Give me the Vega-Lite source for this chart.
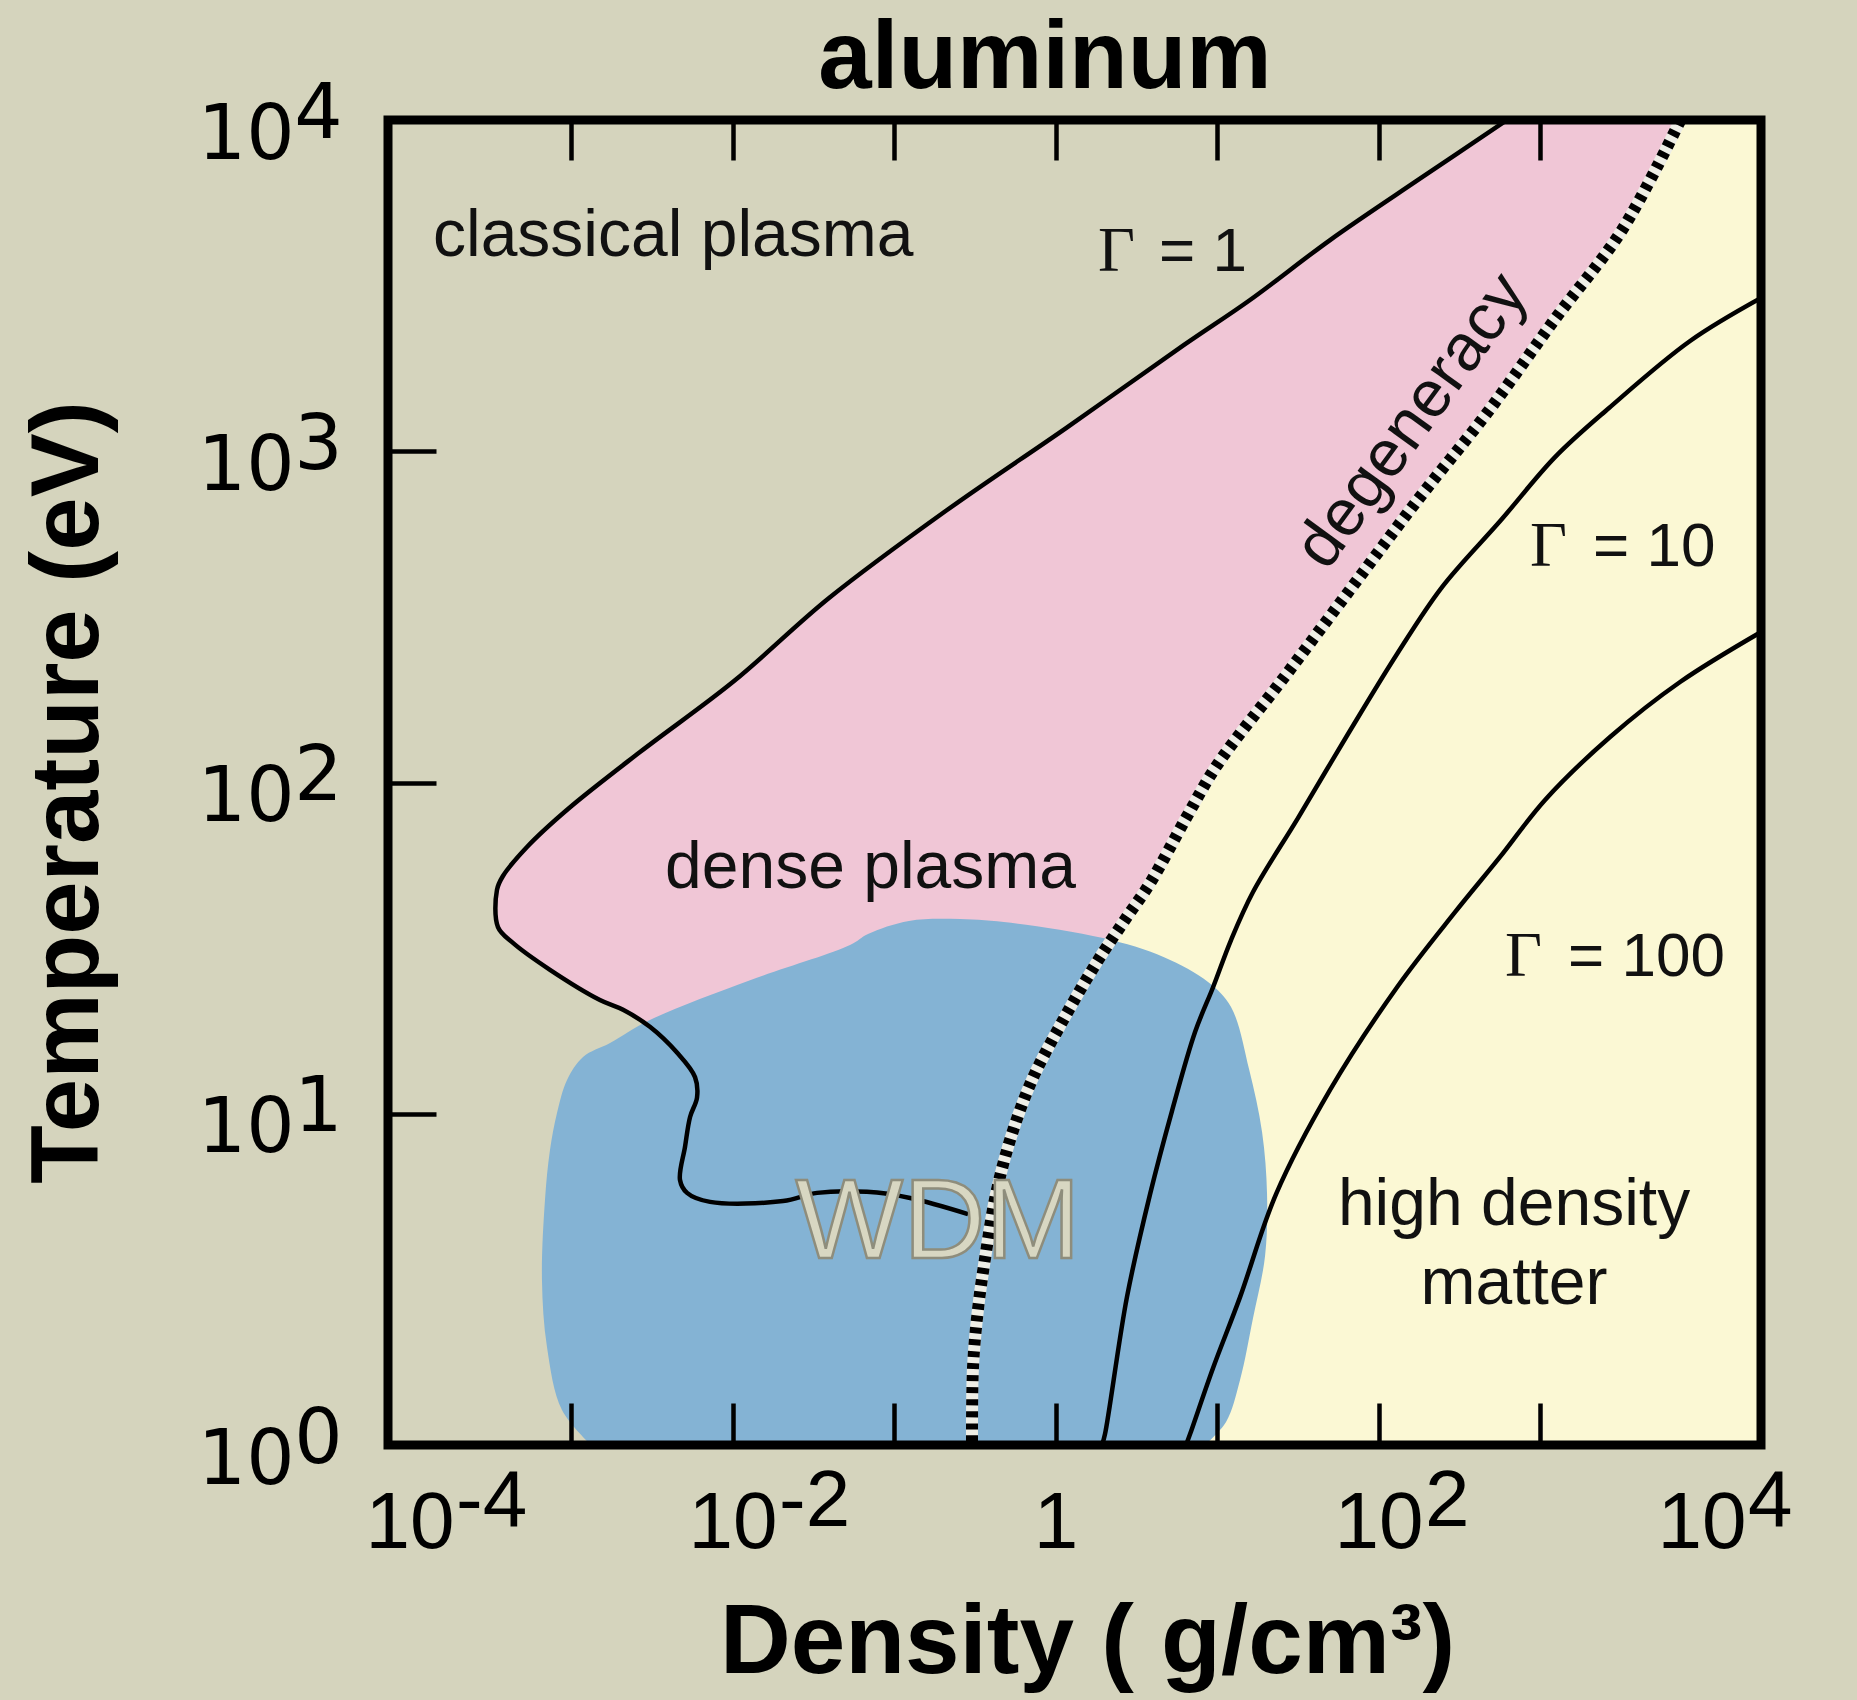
{
  "$schema": "https://vega.github.io/schema/vega-lite/v6.json",
  "width": 1373,
  "height": 1325,
  "autosize": "none",
  "padding": {"left": 388, "top": 120, "right": 96, "bottom": 255},
  "background": "#d5d4bd",
  "config": {"view": {"stroke": null}, "axis": {"grid": false, "domain": false}},
  "datasets": {
    "pts": [
      {"s":"yel","i":1,"x":7400,"y":10000},{"s":"yel","i":2,"x":3219,"y":4656},{"s":"yel","i":3,"x":1238,"y":2508},{"s":"yel","i":4,"x":469.8,"y":1305},{"s":"yel","i":5,"x":180.7,"y":727.8},{"s":"yel","i":6,"x":68.5,"y":389},{"s":"yel","i":7,"x":26.4,"y":209.6},{"s":"yel","i":8,"x":10.0,"y":112.9},{"s":"yel","i":9,"x":6.43,"y":78.1},{"s":"yel","i":10,"x":3.85,"y":49.7},{"s":"yel","i":11,"x":2.69,"y":38.5},{"s":"yel","i":12,"x":1.756,"y":28.1},{"s":"yel","i":13,"x":1.097,"y":18.9},{"s":"yel","i":14,"x":0.7153,"y":12.65},{"s":"yel","i":15,"x":0.53,"y":8.51},{"s":"yel","i":16,"x":0.428,"y":5.72},{"s":"yel","i":17,"x":0.3713,"y":3.825},{"s":"yel","i":18,"x":0.3312,"y":2.574},{"s":"yel","i":19,"x":0.3084,"y":1.72},{"s":"yel","i":20,"x":0.304,"y":1},{"s":"yel","i":21,"x":23340,"y":1},{"s":"yel","i":22,"x":23340,"y":10000},

      {"s":"deg","i":1,"x":7400,"y":10000},{"s":"deg","i":2,"x":3219,"y":4656},{"s":"deg","i":3,"x":1238,"y":2508},{"s":"deg","i":4,"x":469.8,"y":1305},{"s":"deg","i":5,"x":180.7,"y":727.8},{"s":"deg","i":6,"x":68.5,"y":389},{"s":"deg","i":7,"x":26.4,"y":209.6},{"s":"deg","i":8,"x":10.0,"y":112.9},{"s":"deg","i":9,"x":6.43,"y":78.1},{"s":"deg","i":10,"x":3.85,"y":49.7},{"s":"deg","i":11,"x":2.69,"y":38.5},{"s":"deg","i":12,"x":1.756,"y":28.1},{"s":"deg","i":13,"x":1.097,"y":18.9},{"s":"deg","i":14,"x":0.7153,"y":12.65},{"s":"deg","i":15,"x":0.53,"y":8.51},{"s":"deg","i":16,"x":0.428,"y":5.72},{"s":"deg","i":17,"x":0.3713,"y":3.825},{"s":"deg","i":18,"x":0.3312,"y":2.574},{"s":"deg","i":19,"x":0.3084,"y":1.72},{"s":"deg","i":20,"x":0.304,"y":1},

      {"s":"pink","i":1,"x":625,"y":10000},{"s":"pink","i":2,"x":183.3,"y":6683},{"s":"pink","i":3,"x":50.1,"y":4341},{"s":"pink","i":4,"x":16.0,"y":2862},{"s":"pink","i":5,"x":6.248,"y":2094},{"s":"pink","i":6,"x":1.162,"y":1175},{"s":"pink","i":8,"x":0.2129,"y":664.8},{"s":"pink","i":9,"x":0.03959,"y":360.6},{"s":"pink","i":10,"x":0.01022,"y":202.5},{"s":"pink","i":11,"x":0.002674,"y":123.6},{"s":"pink","i":12,"x":0.000958,"y":83.2},{"s":"pink","i":13,"x":0.000534,"y":63.9},{"s":"pink","i":14,"x":0.000379,"y":52.2},{"s":"pink","i":15,"x":0.000348,"y":47.4},{"s":"pink","i":16,"x":0.000353,"y":36.6},{"s":"pink","i":17,"x":0.000437,"y":32.8},{"s":"pink","i":18,"x":0.000741,"y":27.2},{"s":"pink","i":19,"x":0.00151,"y":22.05},{"s":"pink","i":20,"x":0.0021,"y":20.6},{"s":"pink","i":21,"x":0.00308,"y":18.3},{"s":"pink","i":22,"x":1.097,"y":18.9},{"s":"pink","i":23,"x":1.756,"y":28.1},{"s":"pink","i":24,"x":2.69,"y":38.5},{"s":"pink","i":25,"x":3.85,"y":49.7},{"s":"pink","i":26,"x":6.43,"y":78.1},{"s":"pink","i":27,"x":10.0,"y":112.9},{"s":"pink","i":28,"x":26.4,"y":209.6},{"s":"pink","i":29,"x":68.5,"y":389},{"s":"pink","i":30,"x":180.7,"y":727.8},{"s":"pink","i":31,"x":469.8,"y":1305},{"s":"pink","i":32,"x":1238,"y":2508},{"s":"pink","i":33,"x":3219,"y":4656},{"s":"pink","i":34,"x":7400,"y":10000},

      {"s":"g1","i":1,"x":625,"y":10000},{"s":"g1","i":2,"x":183.3,"y":6683},{"s":"g1","i":3,"x":50.1,"y":4341},{"s":"g1","i":4,"x":16.0,"y":2862},{"s":"g1","i":5,"x":6.248,"y":2094},{"s":"g1","i":6,"x":1.162,"y":1175},{"s":"g1","i":8,"x":0.2129,"y":664.8},{"s":"g1","i":9,"x":0.03959,"y":360.6},{"s":"g1","i":10,"x":0.01022,"y":202.5},{"s":"g1","i":11,"x":0.002674,"y":123.6},{"s":"g1","i":12,"x":0.000958,"y":83.2},{"s":"g1","i":13,"x":0.000534,"y":63.9},{"s":"g1","i":14,"x":0.000379,"y":52.2},{"s":"g1","i":15,"x":0.000348,"y":47.4},{"s":"g1","i":16,"x":0.000353,"y":36.6},{"s":"g1","i":17,"x":0.000437,"y":32.8},{"s":"g1","i":18,"x":0.000741,"y":27.2},{"s":"g1","i":19,"x":0.00151,"y":22.05},{"s":"g1","i":20,"x":0.0021,"y":20.6},{"s":"g1","i":21,"x":0.00308,"y":18.3},{"s":"g1","i":22,"x":0.00453,"y":15.3},{"s":"g1","i":23,"x":0.00586,"y":12.9},{"s":"g1","i":24,"x":0.00603,"y":11.2},{"s":"g1","i":25,"x":0.00546,"y":9.78},{"s":"g1","i":26,"x":0.00508,"y":7.94},{"s":"g1","i":27,"x":0.00473,"y":6.31},{"s":"g1","i":28,"x":0.00523,"y":5.77},{"s":"g1","i":29,"x":0.00726,"y":5.42},{"s":"g1","i":30,"x":0.02055,"y":5.45},{"s":"g1","i":31,"x":0.03336,"y":5.77},{"s":"g1","i":32,"x":0.068,"y":5.81},{"s":"g1","i":33,"x":0.1257,"y":5.57},{"s":"g1","i":34,"x":0.2871,"y":4.98},

      {"s":"blue","i":1,"x":0.00133,"y":1},{"s":"blue","i":2,"x":0.000879,"y":1.275},{"s":"blue","i":3,"x":0.00071,"y":1.976},{"s":"blue","i":4,"x":0.000661,"y":3.148},{"s":"blue","i":5,"x":0.00069,"y":5.49},{"s":"blue","i":6,"x":0.000741,"y":7.77},{"s":"blue","i":7,"x":0.000819,"y":10.05},{"s":"blue","i":8,"x":0.000945,"y":12.65},{"s":"blue","i":9,"x":0.001187,"y":14.84},{"s":"blue","i":10,"x":0.001744,"y":16.35},{"s":"blue","i":11,"x":0.00308,"y":19.19},{"s":"blue","i":12,"x":0.01284,"y":25.3},{"s":"blue","i":13,"x":0.0534,"y":32.3},{"s":"blue","i":14,"x":0.069,"y":34.9},{"s":"blue","i":15,"x":0.1238,"y":38.2},{"s":"blue","i":16,"x":0.2563,"y":38.7},{"s":"blue","i":17,"x":0.53,"y":37.7},{"s":"blue","i":18,"x":1.968,"y":33.9},{"s":"blue","i":19,"x":4.7,"y":29.7},{"s":"blue","i":20,"x":8.8,"y":25.0},{"s":"blue","i":21,"x":12.21,"y":21.0},{"s":"blue","i":22,"x":15.78,"y":13.65},{"s":"blue","i":23,"x":19.0,"y":8.81},{"s":"blue","i":24,"x":20.4,"y":5.72},{"s":"blue","i":25,"x":19.83,"y":3.72},{"s":"blue","i":26,"x":16.71,"y":2.417},{"s":"blue","i":27,"x":13.88,"y":1.571},{"s":"blue","i":28,"x":11.37,"y":1.173},{"s":"blue","i":29,"x":8.43,"y":1},

      {"s":"g10","i":1,"x":23340,"y":2902},{"s":"g10","i":2,"x":8490,"y":2152},{"s":"g10","i":3,"x":2674,"y":1351},{"s":"g10","i":4,"x":1238,"y":960},{"s":"g10","i":5,"x":573.5,"y":620},{"s":"g10","i":6,"x":247.3,"y":389},{"s":"g10","i":7,"x":130.2,"y":244.3},{"s":"g10","i":8,"x":64.7,"y":140.1},{"s":"g10","i":9,"x":31.7,"y":78.1},{"s":"g10","i":10,"x":16.7,"y":46.7},{"s":"g10","i":11,"x":12.21,"y":33.45},{"s":"g10","i":12,"x":9.45,"y":24.1},{"s":"g10","i":13,"x":7.31,"y":17.65},{"s":"g10","i":14,"x":5.26,"y":10.19},{"s":"g10","i":15,"x":3.85,"y":5.72},{"s":"g10","i":16,"x":2.77,"y":2.8},{"s":"g10","i":17,"x":2.025,"y":1.079},{"s":"g10","i":18,"x":1.941,"y":1},

      {"s":"g100","i":1,"x":23340,"y":284.6},{"s":"g100","i":2,"x":7362,"y":201.1},{"s":"g100","i":3,"x":2713,"y":137.2},{"s":"g100","i":4,"x":1074,"y":88.6},{"s":"g100","i":5,"x":565.4,"y":59.6},{"s":"g100","i":6,"x":297.6,"y":40.6},{"s":"g100","i":7,"x":130.2,"y":24.1},{"s":"g100","i":8,"x":50.1,"y":11.8},{"s":"g100","i":9,"x":23.2,"y":5.72},{"s":"g100","i":10,"x":13.9,"y":2.8},{"s":"g100","i":11,"x":9.45,"y":1.708},{"s":"g100","i":12,"x":6.81,"y":1.079},{"s":"g100","i":13,"x":6.43,"y":1}
    ],
    "txt": [
      {"g":"title","t":"aluminum","x":0.861,"y":10000},
      {"g":"a","t":"classical plasma","x":0.0001398,"y":3886},
      {"g":"a","t":"dense plasma","x":0.00382,"y":48.0},
      {"g":"eq","t":"= 1","x":4.375,"y":3501},
      {"g":"eq","t":"= 10","x":2128,"y":450.5},
      {"g":"eq","t":"= 100","x":1491,"y":26.05},
      {"g":"G","t":"Γ","x":1.833,"y":3501},
      {"g":"G","t":"Γ","x":867,"y":450.5},
      {"g":"G","t":"Γ","x":607,"y":26.05},
      {"g":"c","t":"high density","x":690,"y":4.615},
      {"g":"c","t":"matter","x":690,"y":2.665},
      {"g":"deg","t":"degeneracy","x":161.2,"y":1234},
      {"g":"wdm","t":"WDM","x":0.1873,"y":3.668}
    ]
  },
  "layer": [
    {
      "data": {"name": "pts"},
      "transform": [{"filter": "datum.s == 'yel'"}],
      "mark": {"type": "line", "interpolate": "linear", "filled": true, "fill": "#fbf8d4", "strokeWidth": 0, "clip": true},
      "encoding": {
        "x": {"field": "x", "type": "quantitative", "scale": {"type": "log", "domain": [0.0000736, 23340], "nice": false},
          "axis": {"orient": "bottom", "values": [0.0001, 0.01, 1, 100, 10000], "labelExpr": "datum.value > 0.5 && datum.value < 2 ? '1' : '10'", "ticks": false, "domain": false, "grid": false, "labelFont": "Liberation Sans", "labelFontSize": 80, "labelColor": "black", "labelPadding": 102, "labelBaseline": "alphabetic", "labelAlign": "center", "labelFlush": false, "labelOverlap": false, "labelBound": false,
            "title": "Density ( g/cm³)", "titleFont": "Liberation Sans", "titleFontSize": 98, "titleFontWeight": "bold", "titleColor": "black", "titleX": 699, "titleY": 227, "titleAlign": "center", "titleBaseline": "alphabetic"}},
        "y": {"field": "y", "type": "quantitative", "scale": {"type": "log", "domain": [1, 10000], "nice": false},
          "axis": {"orient": "left", "values": [1, 10, 100, 1000, 10000], "labelExpr": "'10'", "ticks": false, "domain": false, "grid": false, "labelFont": "DejaVu Sans", "labelFontSize": 76, "labelColor": "black", "labelPadding": 94, "labelAlign": "right", "labelBaseline": "alphabetic", "labelOffset": 38, "labelFlush": false, "labelOverlap": false, "labelBound": false,
            "title": "Temperature (eV)", "titleFont": "Liberation Sans", "titleFontSize": 96, "titleFontWeight": "bold", "titleColor": "black", "titleX": -291, "titleY": 672, "titleAngle": 270, "titleAlign": "center", "titleBaseline": "alphabetic"}},
        "order": {"field": "i", "type": "quantitative"}
      }
    },
    {
      "data": {"name": "pts"},
      "transform": [{"filter": "datum.s == 'pink'"}],
      "mark": {"type": "line", "interpolate": "linear", "filled": true, "fill": "#f0c6d6", "strokeWidth": 0, "clip": true},
      "encoding": {
        "x": {"field": "x", "type": "quantitative", "scale": {"type": "log", "domain": [0.0000736, 23340], "nice": false},
          "axis": {"orient": "bottom", "values": [0.0001, 0.01, 100, 10000], "labelExpr": "datum.value < 0.001 ? '-4' : datum.value < 0.1 ? '-2' : datum.value < 1000 ? '2' : '4'", "ticks": false, "domain": false, "grid": false, "labelFont": "Liberation Sans", "labelFontSize": 80, "labelColor": "black", "labelPadding": 80, "labelBaseline": "alphabetic", "labelAlign": "left", "labelOffset": 46, "labelFlush": false, "labelOverlap": false, "labelBound": false, "title": null}},
        "y": {"field": "y", "type": "quantitative", "scale": {"type": "log", "domain": [1, 10000], "nice": false},
          "axis": {"orient": "left", "values": [1, 10, 100, 1000, 10000], "labelExpr": "datum.value < 5 ? '0' : datum.value < 50 ? '1' : datum.value < 500 ? '2' : datum.value < 5000 ? '3' : '4'", "ticks": false, "domain": false, "grid": false, "labelFont": "DejaVu Sans", "labelFontSize": 76, "labelColor": "black", "labelPadding": 46, "labelAlign": "right", "labelBaseline": "alphabetic", "labelOffset": 17, "labelFlush": false, "labelOverlap": false, "labelBound": false, "title": null}},
        "order": {"field": "i", "type": "quantitative"}
      }
    },
    {
      "data": {"name": "pts"},
      "transform": [{"filter": "datum.s == 'blue'"}],
      "mark": {"type": "line", "interpolate": "catmull-rom", "filled": true, "fill": "#84b3d4", "strokeWidth": 0, "clip": true},
      "encoding": {
        "x": {"field": "x", "type": "quantitative", "scale": {"type": "log", "domain": [0.0000736, 23340], "nice": false},
          "axis": {"orient": "bottom", "values": [0.001, 0.01, 0.1, 1, 10, 100, 1000], "labels": false, "domain": false, "grid": false, "ticks": true, "tickSize": -42, "tickWidth": 4.5, "tickColor": "black", "title": null, "zindex": 2}},
        "y": {"field": "y", "type": "quantitative", "scale": {"type": "log", "domain": [1, 10000], "nice": false},
          "axis": {"orient": "left", "values": [10, 100, 1000], "labels": false, "domain": false, "grid": false, "ticks": true, "tickSize": -48, "tickWidth": 4.5, "tickColor": "black", "title": null, "zindex": 2}},
        "order": {"field": "i", "type": "quantitative"}
      }
    },
    {
      "data": {"name": "pts"},
      "transform": [{"filter": "datum.s == 'g10'"}],
      "mark": {"type": "line", "interpolate": "catmull-rom", "color": "black", "strokeWidth": 4.5, "clip": true},
      "encoding": {
        "x": {"field": "x", "type": "quantitative", "scale": {"type": "log", "domain": [0.0000736, 23340], "nice": false},
          "axis": {"orient": "top", "values": [0.001, 0.01, 0.1, 1, 10, 100, 1000], "labels": false, "domain": false, "grid": false, "ticks": true, "tickSize": -40, "tickWidth": 4.5, "tickColor": "black", "title": null, "zindex": 2}},
        "y": {"field": "y", "type": "quantitative", "scale": {"type": "log", "domain": [1, 10000], "nice": false}, "axis": null},
        "order": {"field": "i", "type": "quantitative"}
      }
    },
    {
      "data": {"name": "pts"},
      "transform": [{"filter": "datum.s == 'g100'"}],
      "mark": {"type": "line", "interpolate": "catmull-rom", "color": "black", "strokeWidth": 4.5, "clip": true},
      "encoding": {
        "x": {"field": "x", "type": "quantitative", "scale": {"type": "log", "domain": [0.0000736, 23340], "nice": false}, "axis": null},
        "y": {"field": "y", "type": "quantitative", "scale": {"type": "log", "domain": [1, 10000], "nice": false}, "axis": null},
        "order": {"field": "i", "type": "quantitative"}
      }
    },
    {
      "data": {"name": "pts"},
      "transform": [{"filter": "datum.s == 'g1'"}],
      "mark": {"type": "line", "interpolate": "catmull-rom", "color": "black", "strokeWidth": 4.5, "strokeJoin": "round", "clip": true},
      "encoding": {
        "x": {"field": "x", "type": "quantitative", "scale": {"type": "log", "domain": [0.0000736, 23340], "nice": false}, "axis": null},
        "y": {"field": "y", "type": "quantitative", "scale": {"type": "log", "domain": [1, 10000], "nice": false}, "axis": null},
        "order": {"field": "i", "type": "quantitative"}
      }
    },
    {
      "data": {"name": "pts"},
      "transform": [{"filter": "datum.s == 'deg'"}],
      "mark": {"type": "line", "interpolate": "catmull-rom", "color": "#eeeee6", "strokeWidth": 12, "clip": true},
      "encoding": {
        "x": {"field": "x", "type": "quantitative", "scale": {"type": "log", "domain": [0.0000736, 23340], "nice": false}, "axis": null},
        "y": {"field": "y", "type": "quantitative", "scale": {"type": "log", "domain": [1, 10000], "nice": false}, "axis": null},
        "order": {"field": "i", "type": "quantitative"}
      }
    },
    {
      "data": {"name": "pts"},
      "transform": [{"filter": "datum.s == 'deg'"}],
      "mark": {"type": "line", "interpolate": "catmull-rom", "color": "black", "strokeWidth": 12, "strokeDash": [6, 6], "clip": true},
      "encoding": {
        "x": {"field": "x", "type": "quantitative", "scale": {"type": "log", "domain": [0.0000736, 23340], "nice": false}, "axis": null},
        "y": {"field": "y", "type": "quantitative", "scale": {"type": "log", "domain": [1, 10000], "nice": false}, "axis": null},
        "order": {"field": "i", "type": "quantitative"}
      }
    },
    {
      "data": {"name": "txt"},
      "transform": [{"filter": "datum.g == 'a'"}],
      "mark": {"type": "text", "align": "left", "baseline": "alphabetic", "font": "Liberation Sans", "fontSize": 66, "color": "#111111"},
      "encoding": {
        "x": {"field": "x", "type": "quantitative", "scale": {"type": "log", "domain": [0.0000736, 23340], "nice": false}, "axis": null},
        "y": {"field": "y", "type": "quantitative", "scale": {"type": "log", "domain": [1, 10000], "nice": false}, "axis": null},
        "text": {"field": "t", "type": "nominal"}
      }
    },
    {
      "data": {"name": "txt"},
      "transform": [{"filter": "datum.g == 'eq'"}],
      "mark": {"type": "text", "align": "left", "baseline": "alphabetic", "font": "Liberation Sans", "fontSize": 62, "color": "#111111"},
      "encoding": {
        "x": {"field": "x", "type": "quantitative", "scale": {"type": "log", "domain": [0.0000736, 23340], "nice": false}, "axis": null},
        "y": {"field": "y", "type": "quantitative", "scale": {"type": "log", "domain": [1, 10000], "nice": false}, "axis": null},
        "text": {"field": "t", "type": "nominal"}
      }
    },
    {
      "data": {"name": "txt"},
      "transform": [{"filter": "datum.g == 'G'"}],
      "mark": {"type": "text", "align": "left", "baseline": "alphabetic", "font": "Liberation Serif", "fontSize": 64, "color": "#111111"},
      "encoding": {
        "x": {"field": "x", "type": "quantitative", "scale": {"type": "log", "domain": [0.0000736, 23340], "nice": false}, "axis": null},
        "y": {"field": "y", "type": "quantitative", "scale": {"type": "log", "domain": [1, 10000], "nice": false}, "axis": null},
        "text": {"field": "t", "type": "nominal"}
      }
    },
    {
      "data": {"name": "txt"},
      "transform": [{"filter": "datum.g == 'c'"}],
      "mark": {"type": "text", "align": "center", "baseline": "alphabetic", "font": "Liberation Sans", "fontSize": 66, "color": "#111111"},
      "encoding": {
        "x": {"field": "x", "type": "quantitative", "scale": {"type": "log", "domain": [0.0000736, 23340], "nice": false}, "axis": null},
        "y": {"field": "y", "type": "quantitative", "scale": {"type": "log", "domain": [1, 10000], "nice": false}, "axis": null},
        "text": {"field": "t", "type": "nominal"}
      }
    },
    {
      "data": {"name": "txt"},
      "transform": [{"filter": "datum.g == 'deg'"}],
      "mark": {"type": "text", "align": "center", "baseline": "middle", "angle": 306, "font": "Liberation Sans", "fontSize": 66, "color": "#111111"},
      "encoding": {
        "x": {"field": "x", "type": "quantitative", "scale": {"type": "log", "domain": [0.0000736, 23340], "nice": false}, "axis": null},
        "y": {"field": "y", "type": "quantitative", "scale": {"type": "log", "domain": [1, 10000], "nice": false}, "axis": null},
        "text": {"field": "t", "type": "nominal"}
      }
    },
    {
      "data": {"name": "txt"},
      "transform": [{"filter": "datum.g == 'wdm'"}],
      "mark": {"type": "text", "align": "center", "baseline": "alphabetic", "font": "Liberation Sans", "fontSize": 114, "fill": "#d8d7c2", "stroke": "#8e8d7c", "strokeWidth": 2.5},
      "encoding": {
        "x": {"field": "x", "type": "quantitative", "scale": {"type": "log", "domain": [0.0000736, 23340], "nice": false}, "axis": null},
        "y": {"field": "y", "type": "quantitative", "scale": {"type": "log", "domain": [1, 10000], "nice": false}, "axis": null},
        "text": {"field": "t", "type": "nominal"}
      }
    },
    {
      "data": {"name": "txt"},
      "transform": [{"filter": "datum.g == 'title'"}],
      "mark": {"type": "text", "align": "center", "baseline": "alphabetic", "dy": -32, "font": "Liberation Sans", "fontSize": 96, "fontWeight": "bold", "color": "black", "clip": false},
      "encoding": {
        "x": {"field": "x", "type": "quantitative", "scale": {"type": "log", "domain": [0.0000736, 23340], "nice": false}, "axis": null},
        "y": {"field": "y", "type": "quantitative", "scale": {"type": "log", "domain": [1, 10000], "nice": false}, "axis": null},
        "text": {"field": "t", "type": "nominal"}
      }
    },
    {
      "data": {"values": [{}]},
      "mark": {"type": "rect", "fill": null, "fillOpacity": 0, "stroke": "black", "strokeWidth": 9},
      "encoding": {
        "x": {"datum": 0.0000736, "type": "quantitative", "scale": {"type": "log", "domain": [0.0000736, 23340], "nice": false}, "axis": null},
        "x2": {"datum": 23340},
        "y": {"datum": 1, "type": "quantitative", "scale": {"type": "log", "domain": [1, 10000], "nice": false}, "axis": null},
        "y2": {"datum": 10000}
      }
    }
  ],
  "resolve": {"axis": {"x": "independent", "y": "independent"}}
}
